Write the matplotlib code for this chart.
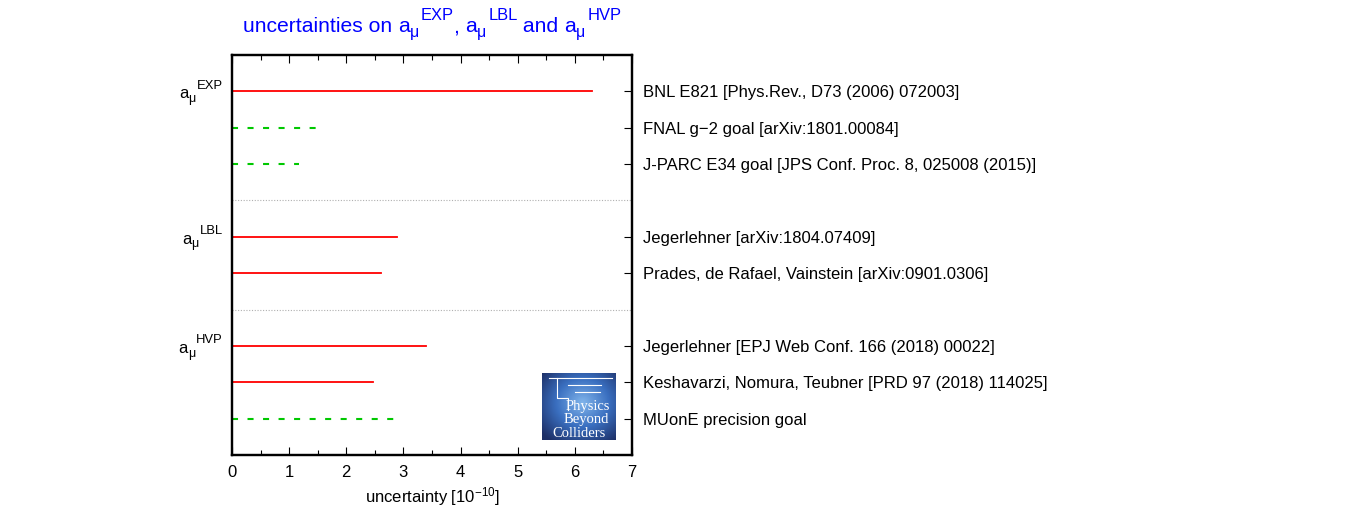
import numpy as np
import matplotlib
matplotlib.use("Agg")
import matplotlib.pyplot as plt
import matplotlib.transforms as mtrans
from matplotlib.ticker import MultipleLocator

plt.rcParams['font.family'] = ['Liberation Sans', 'DejaVu Sans']
plt.rcParams['mathtext.fontset'] = 'custom'
plt.rcParams['mathtext.rm'] = 'Liberation Sans'
plt.rcParams['mathtext.it'] = 'Liberation Sans'

# data
labels = [
    "BNL E821 [Phys.Rev., D73 (2006) 072003]",
    "FNAL g\u22122 goal [arXiv:1801.00084]",
    "J-PARC E34 goal [JPS Conf. Proc. 8, 025008 (2015)]",
    "Jegerlehner [arXiv:1804.07409]",
    "Prades, de Rafael, Vainstein [arXiv:0901.0306]",
    "Jegerlehner [EPJ Web Conf. 166 (2018) 00022]",
    "Keshavarzi, Nomura, Teubner [PRD 97 (2018) 114025]",
    "MUonE precision goal",
]
rows = [1, 2, 3, 5, 6, 8, 9, 10]
values = [6.3, 1.6, 1.17, 2.88, 2.6, 3.4, 2.46, 2.85]
is_goal = [False, True, True, False, False, False, False, True]
group_names = ["EXP", "LBL", "HVP"]
group_rows = [1, 5, 8]
separators = [4, 7]

fig = plt.figure(figsize=(13.5, 5.25), dpi=100)
ax = fig.add_axes([232/1350, 1-455/525, 400/1350, 400/525])
renderer = fig.canvas.get_renderer()


def rich_text(x, y, transform, segments, ha, color, dy0=0.0, dx0=0.0):
    """segments: (text, fontsize, baseline offset in px, extra gap px)"""
    widths = []
    for s, size, dy, gap in segments:
        t = fig.text(0, 0, s, fontsize=size)
        widths.append(t.get_window_extent(renderer).width + gap)
        t.remove()
    total = sum(widths)
    cur = {'left': 0.0, 'center': -total / 2, 'right': -total}[ha] + dx0
    for (s, size, dy, gap), w in zip(segments, widths):
        tr = mtrans.offset_copy(transform, fig=fig, x=cur + gap, y=dy + dy0, units='dots')
        fig.text(x, y, s, fontsize=size, color=color, transform=tr,
                 ha='left', va='baseline')
        cur += w


def amu_segments(name, size, prefix=None):
    segs = []
    if prefix:
        segs.append((prefix, size, 0, 0))
    segs.append(("a", size, 0, 0))
    segs.append(("\u03bc", size * 0.75, -size * 0.3, 0))
    segs.append((name, size * 0.78, size * 0.82, size * 0.12))
    return segs


for r, v, g in zip(rows, values, is_goal):
    if g:
        ax.plot([0, v], [r, r], color='#00c800', lw=1.5, dashes=(2.9, 4.55))
    else:
        ax.plot([0, v], [r, r], color='#ff0000', lw=1.3)
for s in separators:
    ax.axhline(s, color='#b0b0b0', lw=0.8, ls=(0, (1, 1.5)))

ax.set_xlim(0, 7)
ax.set_ylim(11, 0)
ax.xaxis.set_major_locator(MultipleLocator(1))
ax.xaxis.set_minor_locator(MultipleLocator(0.5))
ax.tick_params(axis='x', which='both', direction='in', top=True, bottom=True,
               labelsize=12, pad=7)
ax.tick_params(axis='x', which='major', length=6, width=0.8)
ax.tick_params(axis='x', which='minor', length=3.5, width=0.8)
ax.set_yticks([])

ay = ax.twinx()
ay.set_ylim(11, 0)
ay.set_yticks(rows)
ay.set_yticklabels(labels, fontsize=12)
ay.tick_params(axis='y', direction='in', length=6, width=0.8, pad=8)

for a in (ax, ay):
    for sp in a.spines.values():
        sp.set_linewidth(1.6)

# group labels on the left
blend = mtrans.blended_transform_factory(ax.transAxes, ax.transData)
for name, r in zip(group_names, group_rows):
    rich_text(0, r, blend, amu_segments(name, 12), 'right', 'black', dy0=-7, dx0=-9)

ax.set_xlabel(r'uncertainty [$\mathregular{10^{-10}}$]', fontsize=12, labelpad=4)

# title
title_segs = (amu_segments("EXP", 15.2, "uncertainties on ")
              + amu_segments("LBL", 15.2, ", ")
              + amu_segments("HVP", 15.2, " and "))
rich_text(0.5, 1.0, ax.transAxes, title_segs, 'center', '#0000ff', dy0=23)

# logo
lax = fig.add_axes([542/1350, 1-440/525, 74/1350, 67/525])
yy, xx = np.mgrid[0:1:60j, 0:1:66j]
rr = np.sqrt((xx-0.55)**2 + (yy-0.45)**2)
img = np.clip(1 - rr*1.4, 0, 1)
lax.imshow(img, cmap=matplotlib.colors.LinearSegmentedColormap.from_list('b', ['#1d2f66', '#3a6fc0', '#7fb3ea']),
           extent=(0, 1, 0, 1), aspect='auto')
lax.plot([0.1, 0.95], [0.92, 0.92], color='white', lw=0.8)
lax.plot([0.35, 0.8], [0.82, 0.82], color='white', lw=0.8)
lax.plot([0.45, 0.78], [0.72, 0.72], color='white', lw=0.8)
lax.plot([0.2, 0.2, 0.35, 0.35], [0.92, 0.62, 0.62, 0.45], color='white', lw=0.8)
lax.text(0.62, 0.5, 'Physics', color='white', fontsize=10.5, family='Liberation Serif', ha='center', va='center')
lax.text(0.6, 0.3, 'Beyond', color='white', fontsize=10.5, family='Liberation Serif', ha='center', va='center')
lax.text(0.5, 0.1, 'Colliders', color='white', fontsize=10.5, family='Liberation Serif', ha='center', va='center')
lax.set_xlim(0, 1); lax.set_ylim(0, 1)
lax.axis('off')

fig.savefig('out.png', dpi=100)
